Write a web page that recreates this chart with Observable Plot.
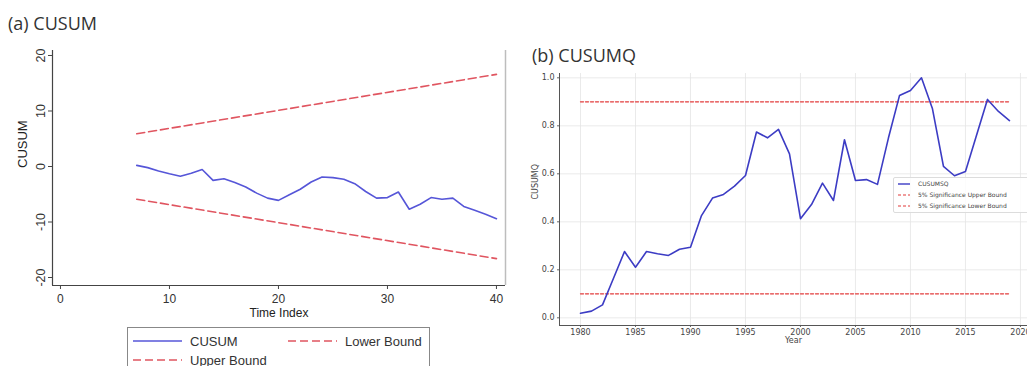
<!DOCTYPE html>
<html>
<head>
<meta charset="utf-8">
<script src="https://cdn.jsdelivr.net/npm/d3@7"></script>
<script src="https://cdn.jsdelivr.net/npm/@observablehq/plot@0.6"></script>
<style>
  html, body { margin: 0; padding: 0; background: #fff; }
  #page { position: relative; width: 1027px; height: 366px; overflow: hidden; background: #fff; }
  .title { position: absolute; font-family: "Open Sans", sans-serif; font-size: 18px; color: #333; white-space: nowrap; line-height: 1; }
  .chart { position: absolute; }
  .chart svg { overflow: visible; max-width: none; }
  #legA { position: absolute; left: 127px; top: 327px; width: 301px; height: 50px; border: 1px solid #888; background: #fff;
          font-family: "Liberation Sans", Arial, sans-serif; font-size: 13px; color: #333; }
  #legB { position: absolute; left: 893px; top: 177px; width: 150px; height: 34px; border: 1px solid #dcdcdc; border-radius: 2px;
          background: rgba(255,255,255,0.85); font-family: "DejaVu Sans", sans-serif; font-size: 6px; color: #444; }
  .item { position: absolute; white-space: nowrap; }
  .item svg { position: absolute; left: 0; top: 0; overflow: visible; }
  .item span { position: absolute; line-height: 1; }
</style>
</head>
<body>
<div id="page">
  <div class="title" style="left:8px; top:14px;">(a) CUSUM</div>
  <div class="title" style="left:532px; top:46px;">(b) CUSUMQ</div>
  <div class="chart" id="chartA" style="left:0px; top:40px;"></div>
  <div class="chart" id="chartB" style="left:520px; top:60px;"></div>
  <div id="legA"></div>
  <div id="legB"></div>
</div>
<script>
// ---------- Panel (a) CUSUM ----------
const cusumT = [7, 8, 9, 10, 11, 12, 13, 14, 15, 16, 17, 18, 19, 20, 21, 22, 23, 24, 25, 26, 27, 28, 29, 30, 31, 32, 33, 34, 35, 36, 37, 38, 39, 40];
const cusumValues = [0.2, -0.2, -0.8, -1.3, -1.75, -1.2, -0.55, -2.5, -2.2, -2.9, -3.7, -4.8, -5.7, -6.1, -5.1, -4.1, -2.8, -1.9, -2.0, -2.3, -3.1, -4.5, -5.7, -5.6, -4.6, -7.7, -6.8, -5.6, -5.9, -5.7, -7.2, -7.9, -8.6, -9.4];
const boundT = [7, 40];
const upperBound = [5.9, 16.6];
const lowerBound = [-5.9, -16.6];
const cusumXTicks = [0, 10, 20, 30, 40];
const cusumYTicks = [-20, -10, 0, 10, 20];

// ---------- Panel (b) CUSUMQ ----------
const years = [1980, 1981, 1982, 1983, 1984, 1985, 1986, 1987, 1988, 1989, 1990, 1991, 1992, 1993, 1994, 1995, 1996, 1997, 1998, 1999,
               2000, 2001, 2002, 2003, 2004, 2005, 2006, 2007, 2008, 2009, 2010, 2011, 2012, 2013, 2014, 2015, 2016, 2017, 2018, 2019];
const cusumsqValues = [0.019, 0.028, 0.054, 0.165, 0.276, 0.211, 0.276, 0.267, 0.26, 0.286, 0.294, 0.426, 0.499, 0.514, 0.549, 0.593, 0.774, 0.75, 0.785, 0.683,
                       0.413, 0.472, 0.561, 0.489, 0.742, 0.572, 0.576, 0.556, 0.75, 0.926, 0.947, 1.0, 0.871, 0.631, 0.592, 0.61, 0.76, 0.91, 0.86, 0.822];
const sigYears = [1980, 2019];
const sigUpper = [0.9, 0.9];
const sigLower = [0.1, 0.1];
const sqXTicks = [1980, 1985, 1990, 1995, 2000, 2005, 2010, 2015, 2020];
const sqYTicks = [0, 0.2, 0.4, 0.6, 0.8, 1.0];

const blueA = "#5656d8", redA = "#e05560";
const blueB = "#3c3cc4", redB = "#e23b3b";

const cusumData = cusumT.map((t, i) => ({t, v: cusumValues[i]}));
const upperData = boundT.map((t, i) => ({t, v: upperBound[i]}));
const lowerData = boundT.map((t, i) => ({t, v: lowerBound[i]}));

const xDomA = [-0.73, 40.83];
const yDomA = [-21.44, 20.9];

const chartA = Plot.plot({
  width: 520, height: 290,
  marginTop: 10, marginBottom: 45, marginLeft: 52, marginRight: 15,
  x: {domain: xDomA},
  y: {domain: yDomA},
  style: {fontFamily: "'Liberation Sans', Arial, sans-serif", fontSize: "12px", color: "#333", background: "transparent", overflow: "visible"},
  marks: [
    Plot.ruleX([xDomA[1]], {stroke: "#bdbdbd", strokeWidth: 1.5}),
    Plot.axisX(cusumXTicks, {tickSize: 4, tickPadding: 5, fontSize: 12, label: null, tickFormat: d => String(d), stroke: "#444"}),
    Plot.axisY(cusumYTicks, {tickSize: 4, tickPadding: 4, tickRotate: -90, fontSize: 12.5, label: null, tickFormat: d => String(d), stroke: "#444"}),
    Plot.ruleX([xDomA[0]], {stroke: "#444", strokeWidth: 1.2}),
    Plot.ruleY([yDomA[0]], {stroke: "#444", strokeWidth: 1.2}),
    Plot.line(upperData, {x: "t", y: "v", stroke: redA, strokeWidth: 1.6, strokeDasharray: "8,4"}),
    Plot.line(lowerData, {x: "t", y: "v", stroke: redA, strokeWidth: 1.6, strokeDasharray: "8,4"}),
    Plot.line(cusumData, {x: "t", y: "v", stroke: blueA, strokeWidth: 1.6}),
    Plot.text(["Time Index"], {frameAnchor: "bottom", dy: 31, fontSize: 12, fill: "#222"}),
    Plot.text(["CUSUM"], {frameAnchor: "left", rotate: -90, dx: -30, fontSize: 13, fill: "#222"})
  ]
});
document.getElementById("chartA").appendChild(chartA);

const sqData = years.map((y, i) => ({y, v: cusumsqValues[i]}));
const sqUpper = sigYears.map((y, i) => ({y, v: sigUpper[i]}));
const sqLower = sigYears.map((y, i) => ({y, v: sigLower[i]}));

const xDomB = [1978.09, 2020.64];
const yDomB = [-0.032, 1.018];

const chartB = Plot.plot({
  width: 507, height: 290,
  marginTop: 13, marginBottom: 25, marginLeft: 39, marginRight: 0,
  x: {domain: xDomB},
  y: {domain: yDomB},
  style: {fontFamily: "'DejaVu Sans', sans-serif", fontSize: "8px", color: "#444", background: "transparent", overflow: "visible"},
  marks: [
    Plot.gridX(sqXTicks, {stroke: "#e4e4e4", strokeOpacity: 1, strokeWidth: 0.8}),
    Plot.gridY(sqYTicks, {stroke: "#e4e4e4", strokeOpacity: 1, strokeWidth: 0.8}),
    Plot.axisX(sqXTicks, {tickSize: 2, tickPadding: 2, label: null, tickFormat: d => String(d), stroke: "#666"}),
    Plot.axisY(sqYTicks, {tickSize: 2, tickPadding: 3, label: null, tickFormat: d => d.toFixed(1), stroke: "#666"}),
    Plot.ruleX([xDomB[0]], {stroke: "#555", strokeWidth: 1}),
    Plot.ruleY([yDomB[0]], {stroke: "#555", strokeWidth: 1}),
    Plot.line(sqUpper, {x: "y", y: "v", stroke: redB, strokeWidth: 1.3, strokeDasharray: "3,2"}),
    Plot.line(sqLower, {x: "y", y: "v", stroke: redB, strokeWidth: 1.3, strokeDasharray: "3,2"}),
    Plot.line(sqData, {x: "y", y: "v", stroke: blueB, strokeWidth: 1.6}),
    Plot.text(["Year"], {frameAnchor: "bottom", dy: 17, fontSize: 8, fill: "#444"}),
    Plot.text(["CUSUMQ"], {frameAnchor: "left", rotate: -90, dx: -24, fontSize: 8, fill: "#444"})
  ]
});
document.getElementById("chartB").appendChild(chartB);

// ---------- Legends ----------
function legendItem(container, x, y, w, color, dash, width, label, textX, font) {
  const div = document.createElement("div");
  div.className = "item";
  div.style.left = x + "px";
  div.style.top = y + "px";
  div.innerHTML = `<svg width="${w}" height="2"><line x1="0" x2="${w}" y1="1" y2="1" stroke="${color}" stroke-width="${width}" ${dash ? `stroke-dasharray="${dash}"` : ""}/></svg>` +
    `<span style="left:${textX}px; top:${-font * 0.5 + 1}px;">${label}</span>`;
  container.appendChild(div);
}
const legA = document.getElementById("legA");
const legendALabels = ["CUSUM", "Lower Bound", "Upper Bound"];
legendItem(legA, 5, 12, 49, blueA, null, 1.6, legendALabels[0], 57, 13);
legendItem(legA, 160, 12, 49, redA, "8,4", 1.6, legendALabels[1], 57, 13);
legendItem(legA, 5, 31, 49, redA, "8,4", 1.6, legendALabels[2], 57, 13);

const legB = document.getElementById("legB");
const legendBLabels = ["CUSUMSQ", "5% Significance Upper Bound", "5% Significance Lower Bound"];
legendItem(legB, 4, 5, 12, blueB, null, 1.4, legendBLabels[0], 20, 6);
legendItem(legB, 4, 16, 12, redB, "3,2", 1.1, legendBLabels[1], 20, 6);
legendItem(legB, 4, 27, 12, redB, "3,2", 1.1, legendBLabels[2], 20, 6);
</script>
</body>
</html>
